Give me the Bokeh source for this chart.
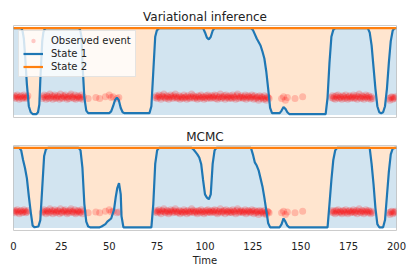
from bokeh.plotting import figure
from bokeh.layouts import column
from bokeh.models import Range1d, FixedTicker, Legend, LegendItem, ColumnDataSource
from bokeh.embed import file_html
from bokeh.resources import INLINE
import numpy as np

# ---------------- data ----------------
# posterior probability of State 1 (variational inference), read at knots
vi_t = [0, 4, 4.7, 5.4, 6, 7, 8, 9, 10, 12, 12.8, 13.5, 14, 15, 15.6, 16.3, 17, 34, 34.8, 35.5, 36, 37, 38, 39, 50, 51, 52, 53, 54, 55, 56, 57, 58,
        71, 72, 73, 74, 74.8, 75.5, 76.5, 99, 100, 101, 102, 103, 104, 105, 124, 125, 126, 127, 128, 129, 130, 131, 132, 133, 134,
        135, 139, 140, 141, 142, 143, 144, 163, 164, 165, 166, 167, 168, 185, 186, 187, 188, 189, 190, 191, 192, 193,
        194, 195, 196, 197, 198, 199, 200]
vi_p1 = [1.0, 1.0, 0.97, 0.88, 0.7, 0.35, 0.1, 0.03, 0.01, 0.01, 0.03, 0.12, 0.4, 0.85, 0.95, 0.99, 1.0, 1.0, 0.98, 0.9, 0.6, 0.2, 0.05, 0.02,
         0.02, 0.04, 0.1, 0.17, 0.2, 0.17, 0.08, 0.03, 0.02, 0.02, 0.1, 0.5, 0.9, 0.97, 0.99, 1.0, 1.0, 0.95, 0.89, 0.87, 0.9,
         0.97, 1.0, 1.0, 0.98, 0.93, 0.88, 0.84, 0.8, 0.73, 0.65, 0.5, 0.3, 0.08, 0.02, 0.02, 0.05, 0.09, 0.07, 0.03,
         0.01, 0.01, 0.2, 0.6, 0.9, 0.98, 1.0, 1.0, 0.95, 0.8, 0.55, 0.3, 0.1, 0.03, 0.02, 0.03, 0.1, 0.3, 0.6, 0.85,
         0.97, 1.0, 1.0]

# posterior probability of State 1 (MCMC)
mc_t = [0, 3, 4, 5, 6, 7, 8, 9, 10, 11, 13, 14, 15, 16, 17, 18, 34, 35, 36, 37, 38, 39, 40, 45, 46, 48, 49, 51, 52.5,
        53.4, 54.2, 55.1, 56, 56.4, 57.4, 72, 73, 74, 75, 76, 93, 94, 95, 96, 97, 98, 99, 100, 101, 102, 103, 104, 105,
        106, 124, 125, 126, 127, 128, 129, 130, 131, 132, 133, 134, 139, 140, 141, 142, 143, 144, 164, 165, 166, 167,
        168, 169, 186, 187, 188, 189, 190, 191, 193, 194, 195, 196, 197, 198, 199, 200]
mc_p1 = [1.0, 1.0, 0.97, 0.85, 0.75, 0.62, 0.4, 0.2, 0.03, 0.01, 0.02, 0.1, 0.5, 0.9, 0.99, 1.0, 1.0, 0.97, 0.75, 0.3,
         0.08, 0.02, 0.01, 0.01, 0.02, 0.05, 0.08, 0.12, 0.23, 0.39, 0.5, 0.56, 0.42, 0.15, 0.01, 0.01, 0.3, 0.8, 0.97,
         1.0, 1.0, 0.98, 0.95, 0.92, 0.88, 0.8, 0.6, 0.42, 0.38, 0.36, 0.42, 0.8, 0.97, 1.0, 1.0, 0.92, 0.82, 0.78,
         0.72, 0.62, 0.52, 0.38, 0.22, 0.06, 0.01, 0.01, 0.05, 0.12, 0.08, 0.03, 0.01, 0.01, 0.3, 0.6, 0.85, 0.97, 1.0,
         1.0, 0.8, 0.55, 0.25, 0.05, 0.01, 0.01, 0.1, 0.4, 0.7, 0.92, 0.99, 1.0, 1.0]

# observed events: dense runs (half-step event times) and sparse isolated events
run_a_t = np.arange(0, 8, 0.5)
run_a_y = [0.20, 0.22, 0.19, 0.21, 0.23, 0.20, 0.18, 0.21, 0.22, 0.19, 0.20, 0.23, 0.21, 0.19, 0.20, 0.22]
run_b_t = np.arange(15, 37, 0.5)
run_b_y = [0.19, 0.21, 0.23, 0.20, 0.18, 0.22, 0.21, 0.19, 0.24, 0.20, 0.22, 0.18, 0.21, 0.23, 0.19, 0.20, 0.22,
           0.21, 0.18, 0.24, 0.20, 0.19, 0.22, 0.21, 0.23, 0.20, 0.18, 0.21, 0.19, 0.22, 0.24, 0.20, 0.21, 0.19,
           0.23, 0.18, 0.20, 0.22, 0.21, 0.19, 0.20, 0.23, 0.18, 0.21]
run_c_t = np.arange(74, 134, 0.5)
run_c_y = [0.20, 0.22, 0.19, 0.21, 0.23, 0.20, 0.18, 0.22, 0.21, 0.24,
           0.20, 0.19, 0.22, 0.21, 0.18, 0.20, 0.23, 0.21, 0.19, 0.22,
           0.20, 0.24, 0.21, 0.19, 0.20, 0.22, 0.18, 0.21, 0.20, 0.19,
           0.23, 0.20, 0.21, 0.18, 0.22, 0.20, 0.19, 0.21, 0.24, 0.20,
           0.22, 0.19, 0.21, 0.20, 0.18, 0.22, 0.21, 0.19, 0.23, 0.20,
           0.21, 0.18, 0.20, 0.22, 0.19, 0.23, 0.21, 0.20, 0.19, 0.22,
           0.20, 0.21, 0.23, 0.19, 0.22, 0.18, 0.20, 0.21, 0.24, 0.19,
           0.21, 0.20, 0.22, 0.18, 0.23, 0.20, 0.21, 0.19, 0.22, 0.20,
           0.19, 0.23, 0.21, 0.20, 0.18, 0.22, 0.24, 0.19, 0.21, 0.20,
           0.22, 0.20, 0.19, 0.21, 0.23, 0.18, 0.20, 0.22, 0.21, 0.19,
           0.20, 0.23, 0.21, 0.18, 0.22, 0.19, 0.20, 0.21, 0.17, 0.22,
           0.19, 0.21, 0.20, 0.18, 0.22, 0.19, 0.17, 0.21, 0.20, 0.19]
run_d_t = np.arange(166, 188, 0.5)
run_d_y = [0.20, 0.22, 0.19, 0.21, 0.18, 0.22, 0.20, 0.23, 0.19, 0.21, 0.20, 0.18, 0.22, 0.21, 0.19, 0.23, 0.20,
           0.18, 0.21, 0.22, 0.19, 0.20, 0.21, 0.23, 0.19, 0.20, 0.22, 0.18, 0.21, 0.24, 0.20, 0.19, 0.22, 0.21,
           0.18, 0.20, 0.23, 0.21, 0.19, 0.22, 0.20, 0.18, 0.21, 0.19]
run_e_t = np.arange(196, 200, 0.5)
run_e_y = [0.19, 0.17, 0.20, 0.21, 0.18, 0.20, 0.19, 0.21]
sparse_t = [39, 43, 45, 48, 50, 51, 52, 54, 55, 140, 141, 142, 143, 147, 151]
sparse_y = [0.19, 0.20, 0.19, 0.21, 0.23, 0.20, 0.21, 0.19, 0.20, 0.19, 0.21, 0.17, 0.20, 0.19, 0.21]

ev_t = list(run_a_t) + list(run_b_t) + list(run_c_t) + list(run_d_t) + list(run_e_t) + sparse_t
ev_y = run_a_y + run_b_y + run_c_y + run_d_y + run_e_y + sparse_y

x_ticks = [0, 25, 50, 75, 100, 125, 150, 175, 200]

BLUE = "#1f77b4"
ORANGE = "#ff7f0e"
FONT = "DejaVu Sans"


def make_panel(title, t, p1, height, top, bottom, show_x):
    p = figure(width=408, height=height, output_backend="svg", toolbar_location=None,
               x_range=Range1d(0, 200), y_range=Range1d(-0.03, 1.03),
               min_border_left=13, min_border_right=12, min_border_top=top, min_border_bottom=bottom)
    p.title.text = title
    p.title.align = "center"
    p.title.text_font = FONT
    p.title.text_font_size = "12px"
    p.title.text_font_style = "normal"
    p.title.text_color = "#222222"
    p.title.standoff = 4
    p.outline_line_color = "#cccccc"
    p.outline_line_width = 1
    p.grid.visible = False
    p.yaxis.visible = False
    p.background_fill_color = "white"
    p.border_fill_color = "white"

    top_line = [a + (1.0 - a) for a in p1]  # state1 + state2
    src = ColumnDataSource(dict(t=t, p1=p1, top=top_line, zero=[0.0] * len(t)))
    p.varea(x="t", y1="zero", y2="p1", source=src, fill_color=BLUE, fill_alpha=0.2)
    p.varea(x="t", y1="p1", y2="top", source=src, fill_color=ORANGE, fill_alpha=0.2)
    sc = p.scatter(ev_t, ev_y, size=7, fill_color="red", line_color="red", fill_alpha=0.2, line_alpha=0.0)
    l1 = p.line(x="t", y="p1", source=src, line_color=BLUE, line_width=2.2)
    l2 = p.line(x="t", y="top", source=src, line_color=ORANGE, line_width=2.2)

    if show_x:
        ax = p.xaxis[0]
        ax.ticker = FixedTicker(ticks=x_ticks)
        ax.axis_line_color = None
        ax.major_tick_line_color = None
        ax.minor_tick_line_color = None
        ax.major_label_standoff = 5
        ax.major_label_text_font = FONT
        ax.major_label_text_font_size = "10px"
        ax.major_label_text_color = "#222222"
        ax.axis_label = "Time"
        ax.axis_label_text_font = FONT
        ax.axis_label_text_font_size = "10px"
        ax.axis_label_text_font_style = "normal"
        ax.axis_label_text_color = "#222222"
        ax.axis_label_standoff = 2
    else:
        p.xaxis.visible = False
    return p, sc, l1, l2


p1, sc, l1, l2 = make_panel("Variational inference", vi_t, vi_p1, 125, 25, 8, False)
legend = Legend(items=[LegendItem(label="Observed event", renderers=[sc]),
                       LegendItem(label="State 1", renderers=[l1]),
                       LegendItem(label="State 2", renderers=[l2])],
                location="top_left")
legend.label_text_font = FONT
legend.label_text_font_size = "10px"
legend.label_text_color = "#222222"
legend.glyph_width = 20
legend.glyph_height = 11
legend.label_height = 11
legend.spacing = 2
legend.padding = 4
legend.margin = 5
legend.background_fill_alpha = 0.8
legend.border_line_color = "#cccccc"
legend.label_standoff = 8
p1.add_layout(legend)

p2, _, _, _ = make_panel("MCMC", mc_t, mc_p1, 143, 20, 32, True)

layout = column(p1, p2, spacing=0)
open("out.html", "w").write(file_html(layout, INLINE))
